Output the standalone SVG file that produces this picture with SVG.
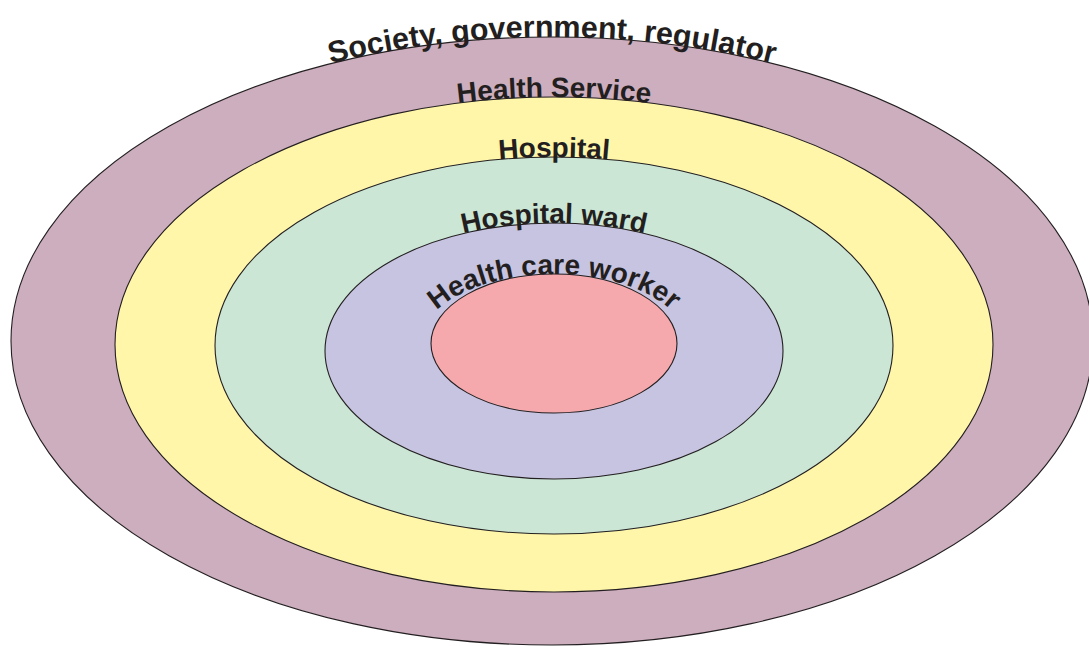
<svg xmlns="http://www.w3.org/2000/svg" xmlns:xlink="http://www.w3.org/1999/xlink" width="1089" height="646" viewBox="0 0 1089 646">
  <style>
    .ring { stroke: #231F20; stroke-width: 1.1; }
    .lbl { font-family: "Liberation Sans", Arial, sans-serif; font-weight: bold; fill: #231F20; }
  </style>
  <defs>
    <!-- baselines: upper halves of ellipses, left to right -->
    <path id="arc-society" d="M 11,341 A 541,304 0 0 1 1093,341"/>
    <path id="arc-service" d="M 115,344.5 A 439,247.5 0 0 1 993,344.5"/>
    <path id="arc-hospital" d="M 215,345.5 A 339,188.5 0 0 1 893,345.5"/>
    <path id="arc-ward" d="M 325,350 A 229,127 0 0 1 783,350"/>
    <path id="arc-worker" d="M 419,346 A 135,72 0 0 1 689,346"/>
  </defs>
  <rect width="1089" height="646" fill="#FFFFFF"/>

  <g id="society">
    <ellipse class="ring" cx="552" cy="341" rx="541" ry="304" fill="#CDAEBE"/>
    <text class="lbl" font-size="30.5" text-anchor="middle"><textPath xlink:href="#arc-society" href="#arc-society" startOffset="50%">Society, government, regulator</textPath></text>
  </g>

  <g id="health-service">
    <ellipse class="ring" cx="554" cy="344.5" rx="439" ry="247.5" fill="#FFF6AA"/>
    <text class="lbl" font-size="28" text-anchor="middle"><textPath xlink:href="#arc-service" href="#arc-service" startOffset="50%">Health Service</textPath></text>
  </g>

  <g id="hospital">
    <ellipse class="ring" cx="554" cy="345.5" rx="339" ry="188.5" fill="#CBE6D5"/>
    <text class="lbl" font-size="28" text-anchor="middle"><textPath xlink:href="#arc-hospital" href="#arc-hospital" startOffset="50%">Hospital</textPath></text>
  </g>

  <g id="hospital-ward">
    <ellipse class="ring" cx="554" cy="351" rx="229" ry="128" fill="#C7C4E1"/>
    <text class="lbl" font-size="28" text-anchor="middle"><textPath xlink:href="#arc-ward" href="#arc-ward" startOffset="50%">Hospital ward</textPath></text>
  </g>

  <g id="health-care-worker">
    <ellipse class="ring" cx="554" cy="343.5" rx="123" ry="69.5" fill="#F6A9AD"/>
    <text class="lbl" font-size="28" text-anchor="middle"><textPath xlink:href="#arc-worker" href="#arc-worker" startOffset="50%">Health care worker</textPath></text>
  </g>
</svg>
